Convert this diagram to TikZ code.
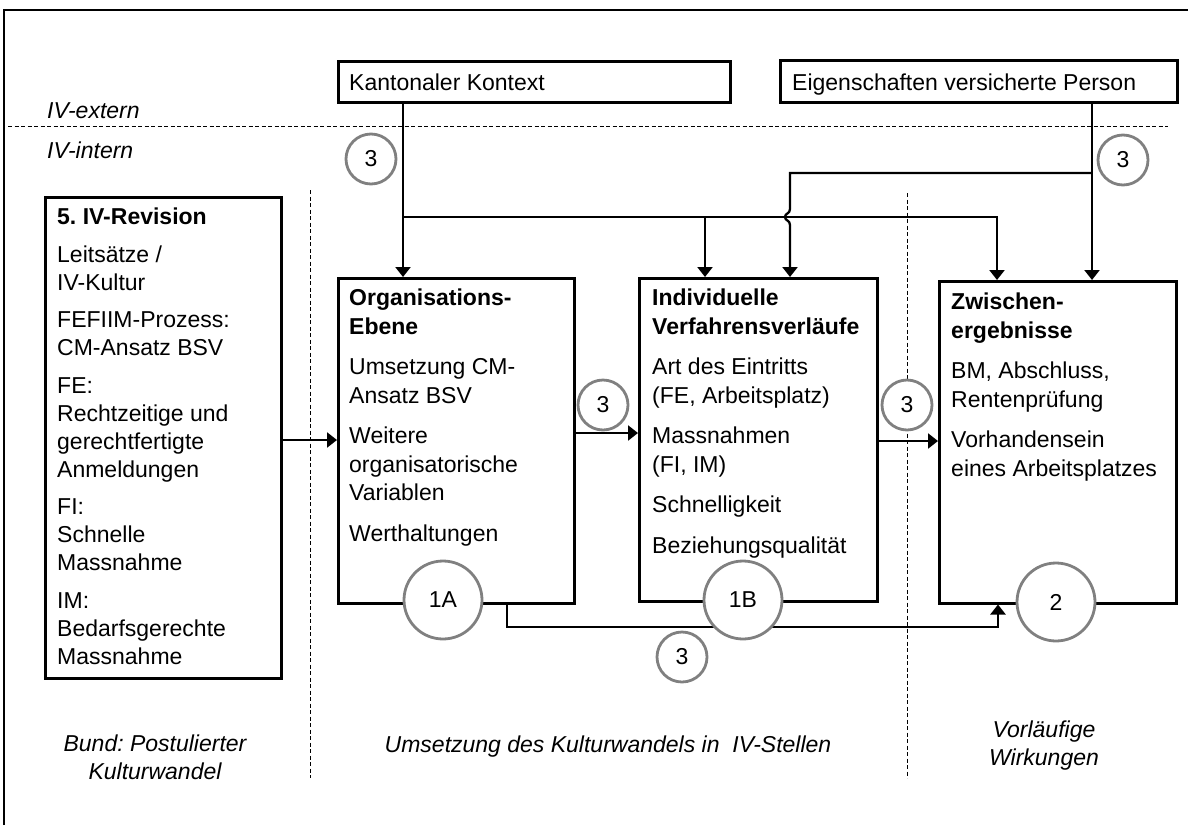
\documentclass[tikz,border=0pt]{standalone}
\usepackage{fontspec}
\setmainfont{Liberation Sans}
\usetikzlibrary{arrows.meta}
\definecolor{cgray}{RGB}{128,128,128}
\frenchspacing
\begin{document}
\frenchspacing
\begin{tikzpicture}[x=1pt,y=-1pt,
  box/.style={draw,line width=2.5pt,inner sep=0pt,anchor=north west},
  txt/.style={anchor=north west,inner sep=0pt,align=left,font=\fontsize{23}{28.5}\selectfont},
  txtl/.style={anchor=north west,inner sep=0pt,align=left,font=\fontsize{23}{28}\selectfont},
  bignum/.style={circle,draw=cgray,fill=white,line width=2.8pt,inner sep=0pt,minimum size=78pt,font=\fontsize{23}{28}\selectfont},
  smallnum/.style={circle,draw=cgray,fill=white,line width=2.8pt,inner sep=0pt,minimum size=50pt,font=\fontsize{23}{28}\selectfont},
  conn/.style={line width=2.3pt},
  arr/.style={conn,-{Triangle[width=15pt,length=10pt]}},
  sepline/.style={line width=0.9pt,dash pattern=on 4pt off 2.5pt},
  lab/.style={font=\fontsize{23}{28}\selectfont\itshape,align=center,inner sep=0pt}
]
\useasboundingbox (0,0) rectangle (1188,825);
% outer frame
\draw[line width=2pt] (4,825) -- (4,10) -- (1188,10);
% separators
\draw[sepline] (8,126) -- (1168,126);
\draw[sepline] (310,190) -- (310,778);
\draw[sepline] (907,193) -- (907,778);
\node[lab,anchor=west] (ext) at (47,111) {IV-extern};
\node[lab,anchor=west] (int) at (47,150) {IV-intern};

% boxes
\node[box,minimum width=392pt,minimum height=41pt] (kk) at (337,60) {};
\node[txt,anchor=base west] (kkt) at (349,90) {Kantonaler Kontext};
\node[box,minimum width=397pt,minimum height=42pt] (ev) at (779,59) {};
\node[txt,anchor=base west] (evt) at (792,90.5) {Eigenschaften versicherte Person};

\node[box,minimum width=236pt,minimum height=481pt] (rev) at (44,196) {};
\node[box,minimum width=236pt,minimum height=325pt] (org) at (337,277) {};
\node[box,minimum width=238pt,minimum height=323pt] (ind) at (638,277) {};
\node[box,minimum width=237pt,minimum height=322pt] (zw) at (938,280) {};

\node[txtl] (revt) at (57,208) {\textbf{5. IV-Revision}\\[9.5pt]
Leitsätze /\\IV-Kultur\\[9.5pt]
FEFIIM-Prozess:\\CM-Ansatz BSV\\[9.5pt]
FE:\\Rechtzeitige und\\gerechtfertigte\\Anmeldungen\\[9.5pt]
FI:\\Schnelle\\Massnahme\\[9.5pt]
IM:\\Bedarfsgerechte\\Massnahme};

\node[txt] (orgt) at (349,289) {\textbf{Organisations-}\\\textbf{Ebene}\\[12pt]
Umsetzung CM-\\Ansatz BSV\\[12pt]
Weitere\\organisatorische\\Variablen\\[12pt]
Werthaltungen};

\node[txt] (indt) at (652,289) {\textbf{Individuelle}\\\textbf{Verfahrensverläufe}\\[12pt]
Art des Eintritts\\(FE, Arbeitsplatz)\\[12pt]
Massnahmen\\(FI, IM)\\[12pt]
Schnelligkeit\\[12pt]
Beziehungsqualität};

\node[txt] (zwt) at (951,293) {\textbf{Zwischen-}\\\textbf{ergebnisse}\\[12pt]
BM, Abschluss,\\Rentenprüfung\\[12pt]
Vorhandensein\\eines Arbeitsplatzes};

% coordinates for connectors
\coordinate (kx) at (403,217);
\coordinate (hx) at (705,217);
\coordinate (zx) at (997,217);
\coordinate (ex) at (1092,173);
\coordinate (vx) at (790,173);
\coordinate (hopA) at (790,209);
\coordinate (hopM) at (785,217);
\coordinate (hopB) at (790,225);
\coordinate (ra) at (280,440);
\coordinate (oa) at (573,433);
\coordinate (ia) at (876,441);
\coordinate (b1) at (507,627);
\coordinate (b2) at (998,627);

% connectors
\draw[arr] (kk.south -| kx) -- (org.north -| kx);
\draw[arr] (kx) -- (zx) -- (zw.north -| zx);
\draw[arr] (hx) -- (ind.north -| hx);
\draw[arr] (ev.south -| ex) -- (zw.north -| ex);
\draw[arr] (ex) -- (vx) -- (hopA) .. controls (790,214) and (785,213) .. (hopM) .. controls (785,221) and (790,220) .. (hopB) -- (ind.north -| vx);
\draw[arr] (rev.east |- ra) -- (org.west |- ra);
\draw[arr] (org.east |- oa) -- (ind.west |- oa);
\draw[arr] (ind.east |- ia) -- (zw.west |- ia);
\draw[arr] (org.south -| b1) -- (b1) -- (b2) -- (zw.south -| b2);

% numbered circles
\node[bignum] (n1A) at (443,600) {1A};
\node[bignum] (n1B) at (743,600) {1B};
\node[bignum] (n2) at (1056,602) {2};
\node[smallnum] (n3a) at (371,159) {3};
\node[smallnum] (n3b) at (1123,160) {3};
\node[smallnum] (n3c) at (603,405) {3};
\node[smallnum] (n3d) at (907,405) {3};
\node[smallnum] (n3e) at (682,657) {3};

% bottom labels
\node[lab] (lb1) at (155,757) {Bund: Postulierter\\Kulturwandel};
\node[lab] (lb2) at (608,747) {Umsetzung des Kulturwandels in\ \ IV-Stellen};
\node[lab] (lb3) at (1044,746) {Vorläufige\\Wirkungen};
\end{tikzpicture}
\end{document}
